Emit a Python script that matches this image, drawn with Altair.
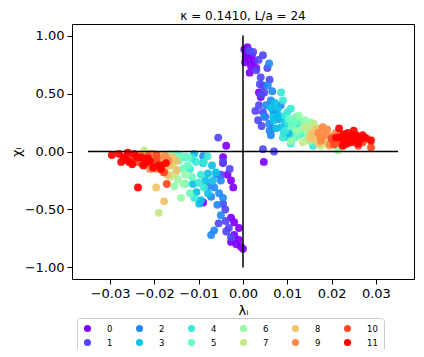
import altair as alt
import pandas as pd

# ---- data (lambda_i, chi_i per category) ----
lam0 = [0.0003, 0.0008, 0.0012, 0.0005, 0.0020, 0.0015, 0.0030, 0.0036, 0.0040, 0.0047, 0.0010, 0.0025, 0.0018, 0.0006,
        -0.0045, -0.0038, -0.0045, -0.0027, -0.0022, -0.0090, -0.0027, -0.0020, -0.0009, -0.0027, -0.0015, -0.0005, 0.0000,
        -0.0020, -0.0010, -0.0035]
chi0 = [0.88, 0.85, 0.80, 0.77, 0.83, 0.68, 0.72, 0.51, 0.47, -0.09, 0.90, 0.78, 0.74, 0.82,
        -0.05, 0.05, -0.10, -0.25, -0.31, -0.44, -0.57, -0.61, -0.66, -0.78, -0.80, -0.82, -0.84,
        -0.72, -0.76, -0.20]
lam1 = [0.0014, 0.0023, 0.0045, 0.0035, 0.0040, 0.0045, 0.0048, 0.0034, 0.0045, 0.0036, 0.0050, 0.0045, 0.0070, 0.0041,
        0.0030, 0.0055, 0.0038, 0.0028, 0.0060, 0.0042,
        -0.0056, -0.0045, -0.0050, -0.0045, -0.0039, -0.0032, -0.0027, -0.0038, -0.0040, -0.0055, -0.0030]
chi1 = [0.87, 0.86, 0.83, 0.79, 0.64, 0.57, 0.51, 0.27, 0.34, 0.40, 0.30, 0.02, 0.00, 0.49,
        0.70, 0.72, 0.58, 0.35, 0.62, 0.22,
        0.12, -0.09, -0.20, -0.45, -0.60, -0.66, -0.74, -0.69, -0.50, -0.62, -0.15]
lam2 = [0.0059, 0.0056, 0.0063, 0.0068, 0.0075, 0.0059, 0.0063, 0.0068, 0.0052, 0.0048, 0.0080, 0.0066, 0.0085, 0.0060,
        -0.0050, -0.0065, -0.0054, -0.0045, -0.0072, -0.0050, -0.0065, -0.0072, -0.0090, -0.0060, -0.0058, -0.0080]
chi2 = [0.76, 0.57, 0.44, 0.35, 0.33, 0.24, 0.14, 0.20, 0.40, 0.30, 0.28, 0.52, 0.40, 0.18,
        -0.25, -0.31, -0.36, -0.40, -0.39, -0.55, -0.68, -0.72, -0.04, -0.20, -0.46, -0.30]
lam3 = [0.0063, 0.0079, 0.0070, 0.0086, 0.0093, 0.0104, 0.0072, 0.0081, 0.0090, 0.0075, 0.0098, 0.0110, 0.0068,
        -0.0079, -0.0068, -0.0099, -0.0095, -0.0079, -0.0113, -0.0061, -0.0110, -0.0085, -0.0070, -0.0105, -0.0090]
chi3 = [0.38, 0.37, 0.27, 0.21, 0.16, 0.12, 0.42, 0.31, 0.28, 0.20, 0.24, 0.16, 0.30,
        -0.19, -0.25, -0.45, -0.42, -0.36, -0.28, -0.18, -0.02, -0.25, -0.12, -0.35, -0.10]
lam4 = [0.0086, 0.0090, 0.0108, 0.0101, 0.0124, 0.0090, 0.0108, 0.0158, 0.0095, 0.0100, 0.0115, 0.0095, 0.0130,
        -0.0088, -0.0088, -0.0110, -0.0106, -0.0130, -0.0095, -0.0120, -0.0100, -0.0115, -0.0080]
chi4 = [0.51, 0.44, 0.37, 0.25, 0.24, 0.12, 0.07, 0.05, 0.31, 0.34, 0.20, 0.18, 0.15,
        -0.09, -0.31, -0.40, -0.09, -0.05, -0.20, -0.15, -0.27, -0.06, -0.04]
lam5 = [0.0104, 0.0115, 0.0131, 0.0138, 0.0120, 0.0125, 0.0145, 0.0110, 0.0140, 0.0128, 0.0150, 0.0118,
        -0.0124, -0.0120, -0.0135, -0.0145, -0.0115, -0.0150, -0.0130, -0.0125, -0.0140]
chi5 = [0.28, 0.25, 0.18, 0.24, 0.30, 0.14, 0.12, 0.22, 0.20, 0.27, 0.16, 0.12,
        -0.05, -0.36, -0.15, -0.08, -0.22, -0.02, -0.28, -0.12, -0.04]
lam6 = [0.0126, 0.0153, 0.0147, 0.0108, 0.0214, 0.0160, 0.0135, 0.0140, 0.0170, 0.0150, 0.0120,
        -0.0135, -0.0140, -0.0147, -0.0160, -0.0170, -0.0150, -0.0155, -0.0165, -0.0130]
chi6 = [0.31, 0.25, 0.18, 0.09, 0.01, 0.14, 0.20, 0.27, 0.20, 0.09, 0.18,
        -0.28, -0.40, -0.24, -0.12, -0.06, -0.17, -0.30, -0.02, -0.20]
lam7 = [0.0140, 0.0158, 0.0147, 0.0176, 0.0160, 0.0135, 0.0165, 0.0150, 0.0185, 0.0170,
        -0.0190, -0.0223, -0.0180, -0.0160, -0.0155, -0.0175, -0.0165, -0.0195, -0.0170]
chi7 = [0.21, 0.16, 0.12, 0.05, 0.24, 0.08, 0.10, 0.20, 0.08, 0.13,
        -0.53, 0.01, -0.03, -0.10, -0.20, -0.14, -0.22, -0.05, -0.08]
lam8 = [0.0187, 0.0153, 0.0160, 0.0170, 0.0195, 0.0175, 0.0165, 0.0180, 0.0200, 0.0155,
        -0.0196, -0.0178, -0.0150, -0.0150, -0.0175, -0.0160, -0.0185, -0.0190, -0.0170, -0.0200, -0.0165]
chi8 = [0.15, 0.11, 0.13, 0.07, 0.05, 0.17, 0.19, 0.11, 0.09, 0.15,
        -0.31, -0.43, -0.08, -0.16, -0.12, -0.05, -0.03, -0.08, -0.20, -0.02, -0.12]
lam9 = [0.0180, 0.0170, 0.0176, 0.0200, 0.0215, 0.0190, 0.0185, 0.0205, 0.0195, 0.0175, 0.0210,
        -0.0210, -0.0208, -0.0168, -0.0190, -0.0200, -0.0180, -0.0220, -0.0195, -0.0230, -0.0175]
chi9 = [0.21, 0.16, 0.09, 0.13, 0.07, 0.19, 0.14, 0.10, 0.06, 0.12, 0.16,
        -0.15, -0.02, -0.08, -0.07, -0.12, -0.18, -0.08, -0.15, -0.03, -0.04]
lam10 = [0.0200, 0.0289, 0.0230, 0.0250, 0.0220, 0.0260, 0.0240, 0.0215, 0.0235, 0.0270, 0.0205, 0.0280,
         -0.0178, -0.0172, -0.0196, -0.0230, -0.0250, -0.0215, -0.0185, -0.0240, -0.0205, -0.0260, -0.0195]
chi10 = [0.11, 0.035, 0.06, 0.10, 0.14, 0.05, 0.12, 0.09, 0.13, 0.08, 0.06, 0.11,
         -0.18, -0.28, -0.08, -0.10, -0.06, -0.04, -0.12, -0.09, -0.10, -0.04, -0.03]
lam11 = [0.0217, 0.0237, 0.0255, 0.0266, 0.0289, 0.0230, 0.0245, 0.0210, 0.0260, 0.0225, 0.0275, 0.0250,
         0.0228, 0.0242, 0.0258, 0.0270, 0.0235, 0.0248, 0.0220, 0.0262,
         -0.0296, -0.0270, -0.0257, -0.0260, -0.0237, -0.0230, -0.0215, -0.0203, -0.0190, -0.0174, -0.0245, -0.0220,
         -0.0280, -0.0265, -0.0250, -0.0240, -0.0210, -0.0185, -0.0225, -0.0275]
chi11 = [0.20, 0.16, 0.14, 0.11, 0.095, 0.10, 0.08, 0.12, 0.07, 0.05, 0.12, 0.18,
         0.15, 0.11, 0.09, 0.14, 0.07, 0.14, 0.12, 0.12,
         -0.03, -0.05, -0.09, -0.01, -0.31, -0.05, -0.06, -0.14, -0.12, -0.10, -0.02, -0.10,
         -0.02, -0.07, -0.11, -0.05, -0.08, -0.15, -0.12, -0.09]

categories = [str(k) for k in range(12)]
colors = ["#8000ff", "#5148fc", "#238af5", "#0cc1e8", "#3ae8d7", "#68fcc1",
          "#97fca7", "#c5e88a", "#f3c16a", "#ff8a48", "#ff4824", "#ff0000"]
hline_x = [-0.035, 0.035]
hline_y = [0.0, 0.0]
vline_x = [0.0, 0.0]
vline_y = [-1.0, 1.0]
x_ticks = [-0.03, -0.02, -0.01, 0.0, 0.01, 0.02, 0.03]
y_ticks = [-1.0, -0.75, -0.5, -0.25, 0.0, 0.25, 0.5, 0.75, 1.0]

lams = [lam0, lam1, lam2, lam3, lam4, lam5, lam6, lam7, lam8, lam9, lam10, lam11]
chis = [chi0, chi1, chi2, chi3, chi4, chi5, chi6, chi7, chi8, chi9, chi10, chi11]

rows = []
for k, (ls, cs) in enumerate(zip(lams, chis)):
    for a, b in zip(ls, cs):
        rows.append({"lam": a, "chi": b, "cat": categories[k], "k": k})
df = pd.DataFrame(rows)

color_scale = alt.Scale(domain=categories, range=colors)

x_scale = alt.Scale(domain=[-0.0386, 0.0386], nice=False, zero=False)
y_scale = alt.Scale(domain=[-1.1, 1.1], nice=False, zero=False)

minus_expr = "replace(format(datum.value, '.2f'), '-', '−')"

points = alt.Chart(df).mark_circle(size=62, opacity=0.92).encode(
    x=alt.X("lam:Q", scale=x_scale,
            axis=alt.Axis(title="λᵢ", values=x_ticks, labelExpr=minus_expr)),
    y=alt.Y("chi:Q", scale=y_scale,
            axis=alt.Axis(title="χᵢ", values=y_ticks, labelExpr=minus_expr, titlePadding=1)),
    color=alt.Color("cat:N", scale=color_scale, sort=categories,
                    legend=alt.Legend(title=None, orient="none", legendX=5, legendY=294,
                                      columns=6, gridAlign="all", columnPadding=17,
                                      rowPadding=5, symbolType="circle", symbolSize=50,
                                      labelFontSize=8.5, labelOffset=15, padding=6,
                                      strokeColor="#cccccc", cornerRadius=3,
                                      fillColor="white", symbolOpacity=1)),
    order=alt.Order("k:Q"),
)

hdf = pd.DataFrame({"x": hline_x, "y": hline_y})
vdf = pd.DataFrame({"x": vline_x, "y": vline_y})
hline = alt.Chart(hdf).mark_line(color="black", strokeWidth=1.5).encode(
    x=alt.X("x:Q", scale=x_scale), y=alt.Y("y:Q", scale=y_scale))
vline = alt.Chart(vdf).mark_line(color="black", strokeWidth=1.5).encode(
    x=alt.X("x:Q", scale=x_scale), y=alt.Y("y:Q", scale=y_scale))

chart = alt.layer(points, hline, vline).properties(
    width=342, height=255,
    title=alt.TitleParams("κ = 0.1410, L/a = 24", fontSize=12, fontWeight="normal",
                          font="DejaVu Sans", offset=1, color="black"),
    autosize=alt.AutoSizeParams(type="none"),
    padding={"left": 64, "top": 16, "right": 2, "bottom": 70},
).configure_view(stroke="black", strokeWidth=1).configure_axis(
    grid=False, domain=False, tickColor="black", tickSize=5, labelColor="black",
    labelFont="DejaVu Sans", labelFontSize=13, titleFont="DejaVu Sans",
    titleFontSize=13, titleFontWeight="normal", titleColor="black", labelPadding=3,
).configure_legend(labelFont="DejaVu Sans", labelColor="black")

chart.save("out.html", embed_options={"renderer": "svg", "actions": False})
